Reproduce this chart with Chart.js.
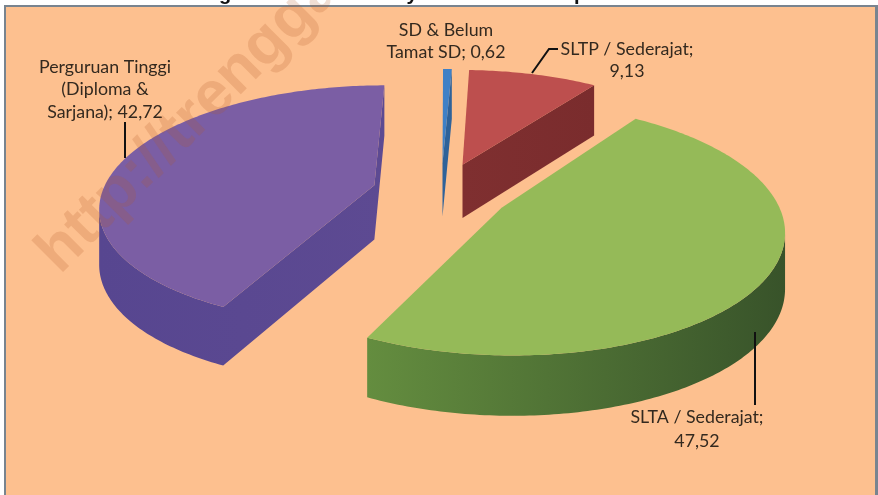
<!DOCTYPE html>
<html>
<head>
<meta charset="utf-8">
<script src="https://cdn.jsdelivr.net/npm/chart.js@4"></script>
<style>html,body{margin:0;padding:0;background:#fff}canvas{display:block}</style>
</head>
<body>
<canvas id="c" width="878" height="495"></canvas>
<script>
const categories = ["SD & Belum Tamat SD", "SLTP / Sederajat", "SLTA / Sederajat", "Perguruan Tinggi (Diploma & Sarjana)"];
const values = [0.62, 9.13, 47.52, 42.72];
const topColors = ["#3f80c6", "#bd4f4e", "#95ba58", "#7b5ea4"];
const wallColorsLeft = ["#2f6299", "#7f2f30", "#648d3f", "#574690"];
const wallColorsRight = ["#2f6299", "#7a2c2d", "#38532a", "#5d4a92"];
const labelLines = [
  ["SD & Belum", "Tamat SD; {v}"],
  ["SLTP / Sederajat;", "{v}"],
  ["SLTA / Sederajat;", "{v}"],
  ["Perguruan Tinggi", "(Diploma &", "Sarjana); {v}"]
];
const labelAnchors = [[446, 30, 22], [627, 49, 22], [697, 417, 24], [105, 67, 22.5]];
const leaderLines = [
  [[532, 73], [549, 49], [558, 49]],
  [[755, 332], [755, 405]],
  [[125, 122], [125, 158]]
];
const watermark = "http://trenggalekkab.bps.go.id";
const clippedTitleGlyphs = [["g", 225], ["y", 412], ["p", 580]];

// Projection of the tilted pie plane onto the canvas
const view = {A: 272, Bx: 72.5, Cx: 441, By: 87, Cy: 192, k: 0.1624, explode: 0.254, depth: 54.5};

function project(theta, radius, midTheta) {
  const X = radius * Math.sin(theta) + view.explode * Math.sin(midTheta);
  const Z = radius * Math.cos(theta) + view.explode * Math.cos(midTheta);
  const w = 1 + view.k * Z;
  return {
    x: (view.A * X + view.Bx * Z + view.Cx) / w,
    y: (view.Cy - view.By * Z) / w,
    d: view.depth / Math.sqrt(w)
  };
}

const pie3d = {
  id: 'pie3d',
  beforeDraw(chart) {
    const c = chart.ctx;
    c.save();
    c.fillStyle = '#ffffff'; c.fillRect(0, 0, 878, 495);
    c.fillStyle = '#111';
    c.font = 'bold 20px "Liberation Sans"';
    c.textAlign = 'center'; c.textBaseline = 'alphabetic';
    clippedTitleGlyphs.forEach(g => c.fillText(g[0], g[1], 0));
    c.fillStyle = '#fdc08f'; c.fillRect(5, 6, 870, 489);
    c.fillStyle = '#78848f';
    c.fillRect(4, 5, 871, 2); c.fillRect(4, 5, 2, 490); c.fillRect(875, 5, 3, 490);
    c.restore();
  },
  beforeDatasetsDraw(chart) {
    const c = chart.ctx;
    const meta = chart.getDatasetMeta(0);
    const slices = meta.data.map((arc, i) => {
      const p = arc.getProps(['startAngle', 'endAngle'], true);
      const s = p.startAngle + Math.PI / 2, e = p.endAngle + Math.PI / 2;
      return {i, s, e, m: (s + e) / 2, color: arc.options.backgroundColor};
    }).sort((a, b) => Math.cos(b.m) - Math.cos(a.m));

    slices.forEach(sl => {
      const pts = [project(0, 0, sl.m)];
      const n = Math.max(2, Math.ceil((sl.e - sl.s) / 0.015));
      for (let j = 0; j <= n; j++) pts.push(project(sl.s + (sl.e - sl.s) * j / n, 1, sl.m));
      const xs = pts.map(p => p.x);
      const g = c.createLinearGradient(Math.min(...xs), 0, Math.max(...xs), 0);
      g.addColorStop(0, wallColorsLeft[sl.i]);
      g.addColorStop(1, wallColorsRight[sl.i]);
      c.beginPath();
      for (let j = 0; j < pts.length; j++) {
        const a = pts[j], b = pts[(j + 1) % pts.length];
        if (b.x < a.x) {
          c.moveTo(a.x, a.y); c.lineTo(b.x, b.y);
          c.lineTo(b.x, b.y + b.d); c.lineTo(a.x, a.y + a.d); c.closePath();
        }
      }
      c.fillStyle = g; c.fill();
      c.beginPath();
      pts.forEach((p, j) => j ? c.lineTo(p.x, p.y) : c.moveTo(p.x, p.y));
      c.closePath();
      c.fillStyle = sl.color; c.fill();
    });
    return false;
  },
  afterDraw(chart) {
    const c = chart.ctx;
    c.save();
    c.strokeStyle = '#111'; c.lineWidth = 2;
    leaderLines.forEach(l => {
      c.beginPath();
      l.forEach((p, j) => j ? c.lineTo(p[0], p[1]) : c.moveTo(p[0], p[1]));
      c.stroke();
    });
    c.fillStyle = '#33291f';
    c.font = '17.8px Lato';
    c.textAlign = 'center'; c.textBaseline = 'middle';
    labelLines.forEach((lines, i) => {
      const [x, y, lh] = labelAnchors[i];
      const v = values[i].toFixed(2).replace('.', ',');
      lines.forEach((t, j) => c.fillText(t.replace('{v}', v), x, y + j * lh));
    });
    c.translate(60, 275);
    c.rotate(-Math.PI / 4);
    c.font = 'bold 62px "Liberation Sans"';
    c.textAlign = 'left'; c.textBaseline = 'alphabetic';
    c.fillStyle = 'rgba(180,90,40,0.2)';
    c.fillText(watermark, 0, 0);
    c.restore();
  }
};

new Chart(document.getElementById('c'), {
  type: 'pie',
  data: {labels: categories, datasets: [{data: values, backgroundColor: topColors, borderWidth: 0}]},
  options: {
    responsive: false,
    animation: false,
    rotation: 0,
    plugins: {legend: {display: false}, tooltip: {enabled: false}, title: {display: false}}
  },
  plugins: [pie3d]
});
</script>
</body>
</html>
